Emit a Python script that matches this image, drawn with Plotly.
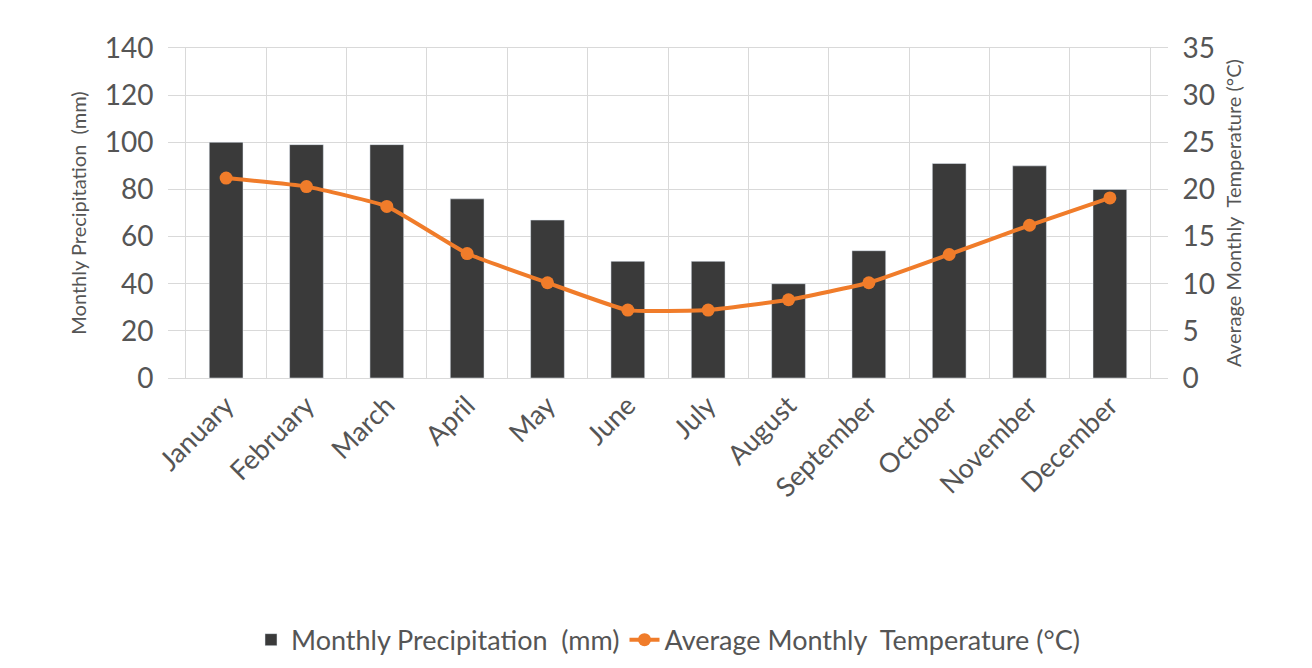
import plotly.graph_objects as go

months = ["January","February","March","April","May","June","July","August","September","October","November","December"]
precip = [100, 99, 99, 76, 67, 49.5, 49.5, 40, 54, 91, 90, 80]
temp = [21.2, 20.3, 18.2, 13.2, 10.1, 7.2, 7.2, 8.3, 10.1, 13.1, 16.2, 19.1]

fig = go.Figure()
fig.add_trace(go.Bar(x=months, y=precip, name="Monthly Precipitation  (mm)",
                     marker_color="#3a3a3a", width=0.42))
fig.add_trace(go.Scatter(x=months, y=temp, name="Average Monthly  Temperature (\u00b0C)",
                         yaxis="y2", mode="lines+markers",
                         line=dict(color="#f07c2a", width=4, shape="spline", smoothing=0.4),
                         marker=dict(size=13, color="#f07c2a")))
fig.update_layout(
    width=1312, height=668,
    margin=dict(l=160, r=152, t=40, b=260),
    paper_bgcolor="white", plot_bgcolor="white",
    font=dict(family="Lato", color="#555555"),
    xaxis=dict(tickangle=-45, tickfont=dict(size=27), showgrid=True, gridcolor="#d9d9d9",
               tickson="boundaries", ticks="", showline=True, linecolor="#d9d9d9",
               mirror=True, automargin=False),
    yaxis=dict(range=[0, 140], dtick=20, tickfont=dict(size=28), gridcolor="#d9d9d9",
               title=dict(text="Monthly Precipitation  (mm)", font=dict(size=20), standoff=12),
               zeroline=False, ticks="outside", ticklen=8, tickcolor="white", automargin=False),
    yaxis2=dict(range=[0, 35], dtick=5, overlaying="y", side="right",
                tickfont=dict(size=28), showgrid=False, zeroline=False,
                title=dict(text="Average Monthly  Temperature (\u00b0C)", font=dict(size=20), standoff=12),
                ticks="outside", ticklen=8, tickcolor="white", automargin=False),
    legend=dict(orientation="h", x=0.5, xanchor="center", y=-0.72, yanchor="top",
                font=dict(size=27)),
    bargap=0.5,
)
fig.write_html("out.html")
